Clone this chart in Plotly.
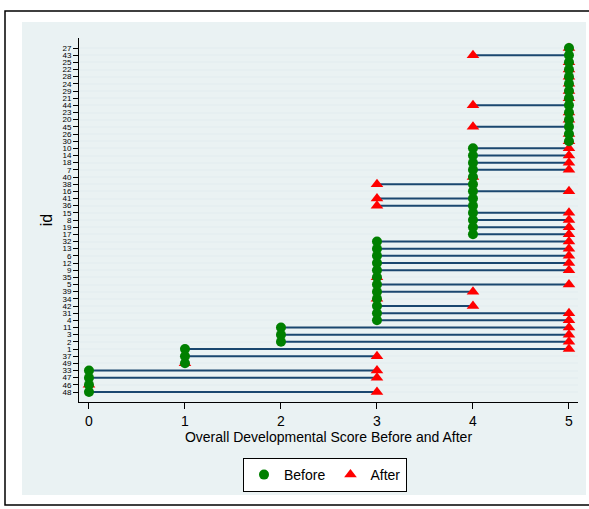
import plotly.graph_objects as go

# rows from top to bottom
ids = [27, 43, 25, 22, 28, 24, 29, 21, 44, 23, 20, 45, 26, 30,
       10, 14, 18, 7, 40, 38, 16, 41, 36, 15, 8, 19, 17,
       32, 13, 6, 12, 9, 35, 5, 39, 34, 42, 31, 4,
       11, 3, 2, 1, 37, 49, 33, 47, 46, 48]
before = [5]*14 + [4]*13 + [3]*12 + [2, 2, 2, 1, 1, 1, 0, 0, 0, 0]
after = [5, 4, 5, 5, 5, 5, 5, 5, 4, 5, 5, 4, 5, 5,
         5, 5, 5, 5, 4, 3, 5, 3, 3, 5, 5, 5, 5,
         5, 5, 5, 5, 5, 3, 5, 4, 3, 4, 5, 5,
         5, 5, 5, 5, 3, 1, 3, 3, 0, 3]
x_ticks = [0, 1, 2, 3, 4, 5]

n = len(ids)
ypos = [n - i for i in range(n)]

W, H = 589, 509
L, R, T, B = 79, 578, 38, 402
pw, ph = R - L, B - T

def px(x):
    return (x - L) / pw

def py(y):
    return (B - y) / ph

seg_x, seg_y = [], []
for b, a, y in zip(before, after, ypos):
    seg_x += [b, a, None]
    seg_y += [y, y, None]

fig = go.Figure()
fig.add_trace(go.Scatter(x=seg_x, y=seg_y, mode="lines",
                         line=dict(color="#1a476f", width=2),
                         showlegend=False, hoverinfo="skip"))
fig.add_trace(go.Scatter(x=after, y=ypos, mode="markers", name="After",
                         marker=dict(symbol="triangle-up", color="#ff0000", size=11),
                         legendrank=2))
fig.add_trace(go.Scatter(x=before, y=ypos, mode="markers", name="Before",
                         marker=dict(symbol="circle", color="#008000", size=10),
                         legendrank=1))

font_family = "Liberation Sans, Arial, sans-serif"

fig.update_layout(
    width=W, height=H,
    margin=dict(l=L, r=W - R, t=T, b=H - B, pad=0),
    paper_bgcolor="white",
    plot_bgcolor="white",
    font=dict(family=font_family, color="black"),
    showlegend=True,
    legend=dict(orientation="h", x=px(325), y=py(475), xanchor="center", yanchor="middle",
                bgcolor="white", bordercolor="black", borderwidth=1,
                font=dict(size=14), itemsizing="trace", traceorder="normal",
                itemwidth=30),
    xaxis=dict(range=[-0.104, 5.094], tickvals=x_ticks, ticktext=[str(v) for v in x_ticks],
               showgrid=False, zeroline=False, showline=True, linecolor="black", linewidth=1,
               ticks="outside", ticklen=6, tickcolor="black", tickfont=dict(size=14),
               title=dict(text="Overall Developmental Score Before and After",
                          font=dict(size=14), standoff=4)),
    yaxis=dict(range=[1 - 10 / 7.167, n + 10 / 7.167], tickvals=ypos,
               ticktext=[str(v) for v in ids],
               showgrid=True, gridcolor="#e6eff1", gridwidth=1.5, zeroline=False,
               showline=True, linecolor="black", linewidth=1,
               ticks="outside", ticklen=5, tickcolor="black", tickfont=dict(size=8),
               title=dict(text="id", font=dict(size=16), standoff=5)),
    shapes=[
        dict(type="rect", xref="paper", yref="paper", layer="below",
             x0=px(5), x1=px(592), y0=py(505), y1=py(11),
             line=dict(color="black", width=1.5), fillcolor="white"),
        dict(type="rect", xref="paper", yref="paper", layer="below",
             x0=px(22), x1=px(586), y0=py(495), y1=py(22),
             line=dict(width=0), fillcolor="#eaf2f3"),
    ],
)

fig.write_html("out.html", config={"displayModeBar": False},
               post_script="document.body.style.margin='0px';document.body.style.overflow='hidden';")
